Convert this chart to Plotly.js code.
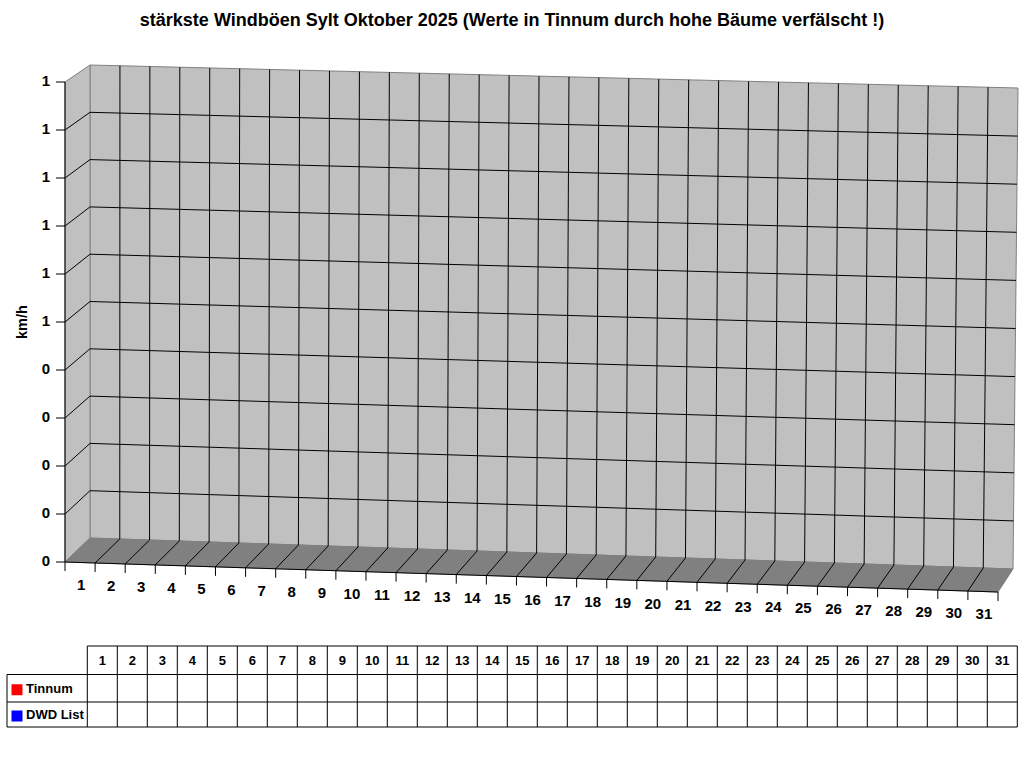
<!DOCTYPE html>
<html>
<head>
<meta charset="utf-8">
<script src="https://cdn.plot.ly/plotly-3.0.1.min.js"></script>
<style>
  html, body { margin: 0; padding: 0; background: #fff; }
  #plot { width: 1024px; height: 768px; }
</style>
</head>
<body>
<div id="plot"></div>
<script>
"use strict";

// ── Data ──
const TITLE = "stärkste Windböen Sylt Oktober 2025 (Werte in Tinnum durch hohe Bäume verfälscht !)";
const Y_TITLE = "km/h";
const DAYS = ["1", "2", "3", "4", "5", "6", "7", "8", "9", "10", "11", "12", "13", "14", "15", "16",
              "17", "18", "19", "20", "21", "22", "23", "24", "25", "26", "27", "28", "29", "30", "31"];
const TINNUM = [null, null, null, null, null, null, null, null, null, null, null, null, null, null, null, null,
                null, null, null, null, null, null, null, null, null, null, null, null, null, null, null];
const DWD_LIST = [null, null, null, null, null, null, null, null, null, null, null, null, null, null, null, null,
                  null, null, null, null, null, null, null, null, null, null, null, null, null, null, null];
const SERIES_NAMES = ["Tinnum", "DWD List"];
const SERIES_COLORS = ["#FF0000", "#0000FF"];
const Y_MAX = 1;
const Y_TICK_VALUES = [0, 0.1, 0.2, 0.3, 0.4, 0.5, 0.6, 0.7, 0.8, 0.9, 1];
const Y_TICK_LABELS = ["0", "0", "0", "0", "0", "1", "1", "1", "1", "1", "1"];

// ── Pseudo-3D frame, in page pixels (the axes below map 1:1 to pixels) ──
const N = DAYS.length;
const FRONT = { x0: 65, x1: 998, y0: 562, y1: 592, h: 480 };
const BACK = { xb0: 90, xb1: 1013, xt1: 1018, yb0: 538, yb1: 569, yt0: 65, yt1: 88 };
const FONT = "Liberation Sans, Arial, sans-serif";

function front(i, v) {
    const t = i / N;
    return [FRONT.x0 + t * (FRONT.x1 - FRONT.x0),
            FRONT.y0 + t * (FRONT.y1 - FRONT.y0) - v / Y_MAX * FRONT.h];
}
function back(i, v) {
    const t = i / N, f = v / Y_MAX;
    const xb = BACK.xb0 + t * (BACK.xb1 - BACK.xb0), xt = BACK.xb0 + t * (BACK.xt1 - BACK.xb0);
    const yb = BACK.yb0 + t * (BACK.yb1 - BACK.yb0), yt = BACK.yt0 + t * (BACK.yt1 - BACK.yt0);
    return [xb + f * (xt - xb), yb + f * (yt - yb)];
}

const traces = [];
function poly(pts, fill, edge) {
    const c = pts.concat([pts[0]]);
    traces.push({
        type: "scatter", mode: "lines", x: c.map(p => p[0]), y: c.map(p => p[1]),
        fill: "toself", fillcolor: fill,
        line: { color: edge, width: 1 }, hoverinfo: "skip",
    });
}
function segs(pairs, color) {
    const xs = [], ys = [];
    for (const [a, b] of pairs) { xs.push(a[0], b[0], null); ys.push(a[1], b[1], null); }
    traces.push({
        type: "scatter", mode: "lines", x: xs, y: ys,
        line: { color: color, width: 1 }, hoverinfo: "skip",
    });
}
function texts(pts, labels, opts) {
    traces.push({
        type: "scatter", mode: "text",
        x: pts.map(p => p[0]), y: pts.map(p => p[1]), text: labels,
        textposition: opts.pos || "middle center",
        textfont: { family: FONT, size: opts.size || 14, color: "#000", weight: "bold" },
        hoverinfo: "skip",
    });
}

// walls + floor
poly([back(0, 0), back(0, Y_MAX), back(N, Y_MAX), back(N, 0)], "#C0C0C0", "#808080");
poly([front(0, 0), front(0, Y_MAX), back(0, Y_MAX), back(0, 0)], "#C0C0C0", "#808080");
poly([front(0, 0), front(N, 0), back(N, 0), back(0, 0)], "#808080", "#808080");

// grid
const grid = [];
for (let i = 1; i < N; i++) grid.push([back(i, 0), back(i, Y_MAX)]);
for (let i = 1; i < N; i++) grid.push([front(i, 0), back(i, 0)]);
for (const v of Y_TICK_VALUES) {
    if (v <= 0 || v >= Y_MAX) continue;
    grid.push([back(0, v), back(N, v)]);
    grid.push([front(0, v), back(0, v)]);
}
segs(grid, "#000");

// axes and ticks
const axes = [[front(0, 0), front(0, Y_MAX)], [front(0, 0), front(N, 0)]];
for (const v of Y_TICK_VALUES) {
    const p = front(0, v);
    axes.push([[p[0] - 9, p[1]], p]);
}
for (let i = 0; i <= N; i++) {
    const p = front(i, 0);
    axes.push([p, [p[0], p[1] + 9]]);
}
segs(axes, "#000");

texts(Y_TICK_VALUES.map(v => { const p = front(0, v); return [p[0] - 19, p[1]]; }),
      Y_TICK_LABELS, { size: 15 });
texts(DAYS.map((d, i) => { const p = front(i + 0.5, 0); return [p[0] + 1, p[1] + 24]; }),
      DAYS, { size: 15 });

// ── Data table ──
const TAB = { x0: 87.3, colW: 30, lx: 7, rows: [646, 674.5, 702, 727] };
const xEnd = TAB.x0 + N * TAB.colW;
const tab = [[[TAB.x0, TAB.rows[0]], [xEnd, TAB.rows[0]]]];
for (let r = 1; r < TAB.rows.length; r++) tab.push([[TAB.lx, TAB.rows[r]], [xEnd, TAB.rows[r]]]);
for (let k = 0; k <= N; k++) {
    const x = TAB.x0 + k * TAB.colW;
    tab.push([[x, TAB.rows[0]], [x, TAB.rows[3]]]);
}
tab.push([[TAB.lx, TAB.rows[1]], [TAB.lx, TAB.rows[3]]]);
segs(tab, "#000");

const colCenters = DAYS.map((d, i) => TAB.x0 + (i + 0.5) * TAB.colW);
texts(colCenters.map(x => [x, (TAB.rows[0] + TAB.rows[1]) / 2 + 1]), DAYS, { size: 13 });
[TINNUM, DWD_LIST].forEach((series, s) => {
    const yc = (TAB.rows[s + 1] + TAB.rows[s + 2]) / 2 + 1.5;
    texts(colCenters.map(x => [x, yc]), series.map(v => v == null ? "" : String(v)), { size: 12 });
    traces.push({
        type: "scatter", mode: "markers", x: [17], y: [yc],
        marker: { symbol: "square", size: 11, color: SERIES_COLORS[s] },
        hoverinfo: "skip",
    });
    texts([[26, yc]], [SERIES_NAMES[s]], { size: 13, pos: "middle right" });
});

const layout = {
    width: 1024, height: 768,
    margin: { l: 0, r: 0, t: 0, b: 0 },
    paper_bgcolor: "#fff", plot_bgcolor: "#fff",
    showlegend: false,
    title: {
        text: TITLE, x: 0.5, xanchor: "center",
        yref: "container", y: 1 - 20 / 768, yanchor: "middle",
        font: { family: FONT, size: 18, color: "#000", weight: "bold" },
    },
    xaxis: { visible: false, range: [0, 1024], fixedrange: true },
    yaxis: { visible: false, range: [768, 0], fixedrange: true },
    annotations: [{
        text: Y_TITLE, x: 22, y: 322, xref: "x", yref: "y", showarrow: false,
        textangle: -90, font: { family: FONT, size: 14.5, color: "#000", weight: "bold" },
    }],
};

Plotly.newPlot("plot", traces, layout, { displayModeBar: false, staticPlot: true });
</script>
</body>
</html>
